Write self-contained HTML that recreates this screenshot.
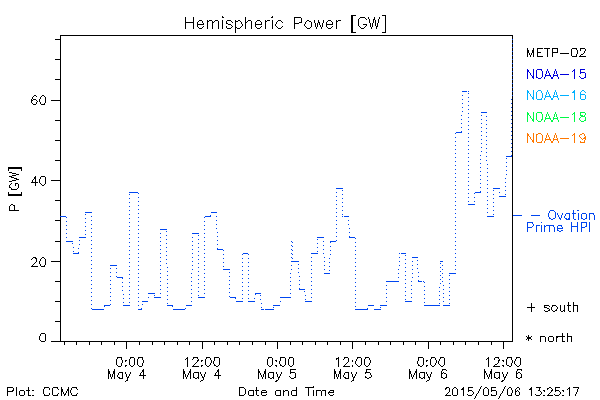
<!DOCTYPE html>
<html lang="en"><head><meta charset="utf-8"><title>Hemispheric Power [GW]</title>
<style>
html,body{margin:0;padding:0;background:#fff;font-family:"Liberation Sans",sans-serif;}
body{width:600px;height:400px;overflow:hidden;position:relative}
svg{display:block;position:absolute;left:0;top:0}
</style></head><body>
<svg role="img" width="600" height="400" viewBox="0 0 600 400" shape-rendering="crispEdges">
<title>Hemispheric Power [GW]</title>
<desc>Plot of hemispheric power P [GW] versus Date and Time, 0:00 May 4 to 12:00 May 6. Legend: METP-02, NOAA-15, NOAA-16, NOAA-18, NOAA-19, Ovation Prime HPI, + south, * north. Plot: CCMC. 2015/05/06 13:25:17</desc>
<rect width="600" height="400" fill="#fff"/>
<g aria-label="axes" fill="#000"><rect x="60" y="35" width="453" height="1"/><rect x="60" y="341" width="453" height="1"/><rect x="60" y="35" width="1" height="307"/><rect x="512" y="35" width="1" height="307"/><rect x="51" y="341" width="9" height="1"/><rect x="55" y="321" width="5" height="1"/><rect x="55" y="301" width="5" height="1"/><rect x="55" y="281" width="5" height="1"/><rect x="51" y="261" width="9" height="1"/><rect x="55" y="241" width="5" height="1"/><rect x="55" y="220" width="5" height="1"/><rect x="55" y="200" width="5" height="1"/><rect x="51" y="180" width="9" height="1"/><rect x="55" y="160" width="5" height="1"/><rect x="55" y="140" width="5" height="1"/><rect x="55" y="120" width="5" height="1"/><rect x="51" y="100" width="9" height="1"/><rect x="55" y="79" width="5" height="1"/><rect x="55" y="59" width="5" height="1"/><rect x="55" y="39" width="5" height="1"/><rect x="64" y="342" width="1" height="3"/><rect x="76" y="342" width="1" height="3"/><rect x="89" y="342" width="1" height="3"/><rect x="101" y="342" width="1" height="3"/><rect x="114" y="342" width="1" height="3"/><rect x="126" y="342" width="1" height="7"/><rect x="139" y="342" width="1" height="3"/><rect x="152" y="342" width="1" height="3"/><rect x="164" y="342" width="1" height="3"/><rect x="177" y="342" width="1" height="3"/><rect x="189" y="342" width="1" height="3"/><rect x="202" y="342" width="1" height="7"/><rect x="214" y="342" width="1" height="3"/><rect x="227" y="342" width="1" height="3"/><rect x="239" y="342" width="1" height="3"/><rect x="252" y="342" width="1" height="3"/><rect x="265" y="342" width="1" height="3"/><rect x="277" y="342" width="1" height="7"/><rect x="290" y="342" width="1" height="3"/><rect x="302" y="342" width="1" height="3"/><rect x="315" y="342" width="1" height="3"/><rect x="327" y="342" width="1" height="3"/><rect x="340" y="342" width="1" height="3"/><rect x="352" y="342" width="1" height="7"/><rect x="365" y="342" width="1" height="3"/><rect x="378" y="342" width="1" height="3"/><rect x="390" y="342" width="1" height="3"/><rect x="403" y="342" width="1" height="3"/><rect x="415" y="342" width="1" height="3"/><rect x="428" y="342" width="1" height="7"/><rect x="440" y="342" width="1" height="3"/><rect x="453" y="342" width="1" height="3"/><rect x="465" y="342" width="1" height="3"/><rect x="478" y="342" width="1" height="3"/><rect x="491" y="342" width="1" height="3"/><rect x="503" y="342" width="1" height="7"/></g>
<g aria-label="data"><path d="M512 39h1v1h-1zM512 43h1v1h-1zM512 47h1v1h-1zM512 51h1v1h-1zM512 55h1v1h-1zM512 59h1v1h-1zM512 63h1v1h-1zM512 67h1v1h-1zM512 71h1v1h-1zM512 75h1v1h-1zM512 79h1v1h-1zM512 83h1v1h-1zM512 87h1v1h-1zM462 91h5v1h-5zM468 91h1v1h-1zM512 91h1v1h-1zM468 93h1v1h-1zM462 95h1v1h-1zM512 95h1v1h-1zM468 97h1v1h-1zM462 99h1v1h-1zM511 99h1v1h-1zM468 101h1v1h-1zM462 103h1v1h-1zM511 103h1v1h-1zM468 105h1v1h-1zM462 107h1v1h-1zM511 107h1v1h-1zM468 109h1v1h-1zM462 111h1v1h-1zM511 111h1v1h-1zM481 112h6v1h-6zM468 113h1v1h-1zM461 115h1v1h-1zM481 115h1v1h-1zM511 115h1v1h-1zM486 116h1v1h-1zM468 117h1v1h-1zM461 119h1v1h-1zM481 119h1v1h-1zM511 119h1v1h-1zM486 120h1v1h-1zM468 121h1v1h-1zM461 123h1v1h-1zM481 123h1v1h-1zM511 123h1v1h-1zM486 124h1v1h-1zM468 125h1v1h-1zM461 127h1v1h-1zM481 127h1v1h-1zM511 127h1v1h-1zM486 128h1v1h-1zM468 129h1v1h-1zM461 131h1v1h-1zM481 131h1v1h-1zM511 131h1v1h-1zM456 132h6v1h-6zM486 132h1v1h-1zM455 133h1v1h-1zM468 133h1v1h-1zM481 135h1v1h-1zM511 135h1v1h-1zM486 136h1v1h-1zM455 137h1v1h-1zM468 137h1v1h-1zM481 139h1v1h-1zM511 139h1v1h-1zM486 140h1v1h-1zM455 141h1v1h-1zM468 141h1v1h-1zM481 143h1v1h-1zM511 143h1v1h-1zM486 144h1v1h-1zM455 145h1v1h-1zM468 145h1v1h-1zM481 147h1v1h-1zM511 147h1v1h-1zM486 148h1v1h-1zM455 149h1v1h-1zM468 149h1v1h-1zM481 151h1v1h-1zM511 151h1v1h-1zM486 152h1v1h-1zM455 153h1v1h-1zM468 153h1v1h-1zM480 155h1v1h-1zM511 155h1v1h-1zM486 156h1v1h-1zM506 156h6v1h-6zM455 157h1v1h-1zM468 157h1v1h-1zM506 158h1v1h-1zM480 159h1v1h-1zM486 160h1v1h-1zM455 161h1v1h-1zM468 161h1v1h-1zM506 162h1v1h-1zM480 163h1v1h-1zM487 164h1v1h-1zM455 165h1v1h-1zM468 165h1v1h-1zM506 166h1v1h-1zM480 167h1v1h-1zM487 168h1v1h-1zM455 169h1v1h-1zM468 169h1v1h-1zM506 170h1v1h-1zM480 171h1v1h-1zM487 172h1v1h-1zM455 173h1v1h-1zM468 173h1v1h-1zM506 174h1v1h-1zM480 175h1v1h-1zM487 176h1v1h-1zM455 177h1v1h-1zM468 177h1v1h-1zM505 178h1v1h-1zM480 179h1v1h-1zM487 180h1v1h-1zM455 181h1v1h-1zM468 181h1v1h-1zM505 182h1v1h-1zM480 183h1v1h-1zM487 184h1v1h-1zM455 185h1v1h-1zM468 185h1v1h-1zM505 186h1v1h-1zM480 187h1v1h-1zM336 188h7v1h-7zM487 188h1v1h-1zM493 188h7v1h-7zM455 189h1v1h-1zM468 189h1v1h-1zM342 190h1v1h-1zM493 190h1v1h-1zM505 190h1v1h-1zM480 191h1v1h-1zM129 192h9v1h-9zM336 192h1v1h-1zM475 192h6v1h-6zM487 192h1v1h-1zM499 192h1v1h-1zM138 193h1v1h-1zM455 193h1v1h-1zM468 193h1v1h-1zM474 193h1v1h-1zM129 194h1v1h-1zM342 194h1v1h-1zM493 194h1v1h-1zM505 194h1v1h-1zM336 196h1v1h-1zM487 196h1v1h-1zM499 196h7v1h-7zM138 197h1v1h-1zM455 197h1v1h-1zM468 197h1v1h-1zM474 197h1v1h-1zM129 198h1v1h-1zM342 198h1v1h-1zM493 198h1v1h-1zM336 200h1v1h-1zM487 200h1v1h-1zM138 201h1v1h-1zM455 201h1v1h-1zM468 201h1v1h-1zM474 201h1v1h-1zM129 202h1v1h-1zM342 202h1v1h-1zM493 202h1v1h-1zM336 204h1v1h-1zM468 204h7v1h-7zM487 204h1v1h-1zM138 205h1v1h-1zM455 205h1v1h-1zM129 206h1v1h-1zM342 206h1v1h-1zM493 206h1v1h-1zM336 208h1v1h-1zM487 208h1v1h-1zM138 209h1v1h-1zM455 209h1v1h-1zM129 210h1v1h-1zM342 210h1v1h-1zM493 210h1v1h-1zM85 212h7v1h-7zM211 212h6v1h-6zM336 212h1v1h-1zM487 212h1v1h-1zM138 213h1v1h-1zM455 213h1v1h-1zM85 214h1v1h-1zM129 214h1v1h-1zM342 214h1v1h-1zM493 214h1v1h-1zM210 215h1v1h-1zM60 216h6v1h-6zM91 216h1v1h-1zM205 216h6v1h-6zM216 216h1v1h-1zM336 216h1v1h-1zM342 216h1v1h-1zM344 216h5v1h-5zM487 216h7v1h-7zM66 217h1v1h-1zM138 217h1v1h-1zM204 217h1v1h-1zM455 217h1v1h-1zM85 218h1v1h-1zM129 218h1v1h-1zM91 220h1v1h-1zM216 220h1v1h-1zM336 220h1v1h-1zM348 220h1v1h-1zM66 221h1v1h-1zM138 221h1v1h-1zM204 221h1v1h-1zM455 221h1v1h-1zM85 222h1v1h-1zM129 222h1v1h-1zM91 224h1v1h-1zM216 224h1v1h-1zM336 224h1v1h-1zM348 224h1v1h-1zM66 225h1v1h-1zM138 225h1v1h-1zM204 225h1v1h-1zM455 225h1v1h-1zM85 226h1v1h-1zM129 226h1v1h-1zM91 228h1v1h-1zM216 228h1v1h-1zM336 228h1v1h-1zM349 228h1v1h-1zM66 229h1v1h-1zM138 229h1v1h-1zM160 229h7v1h-7zM204 229h1v1h-1zM455 229h1v1h-1zM85 230h1v1h-1zM129 230h1v1h-1zM166 231h1v1h-1zM91 232h1v1h-1zM217 232h1v1h-1zM336 232h1v1h-1zM349 232h1v1h-1zM66 233h1v1h-1zM138 233h1v1h-1zM160 233h1v1h-1zM192 233h7v1h-7zM204 233h1v1h-1zM455 233h1v1h-1zM85 234h1v1h-1zM129 234h1v1h-1zM166 235h1v1h-1zM198 235h1v1h-1zM91 236h1v1h-1zM217 236h1v1h-1zM336 236h1v1h-1zM349 236h1v1h-1zM66 237h1v1h-1zM79 237h7v1h-7zM138 237h1v1h-1zM160 237h1v1h-1zM192 237h1v1h-1zM204 237h1v1h-1zM317 237h7v1h-7zM349 237h6v1h-6zM455 237h1v1h-1zM129 238h1v1h-1zM355 238h1v1h-1zM166 239h1v1h-1zM198 239h1v1h-1zM317 239h1v1h-1zM79 240h1v1h-1zM91 240h1v1h-1zM217 240h1v1h-1zM336 240h1v1h-1zM66 241h7v1h-7zM138 241h1v1h-1zM160 241h1v1h-1zM192 241h1v1h-1zM204 241h1v1h-1zM291 241h1v1h-1zM323 241h1v1h-1zM330 241h6v1h-6zM455 241h1v1h-1zM129 242h1v1h-1zM292 242h1v1h-1zM330 242h1v1h-1zM355 242h1v1h-1zM72 243h1v1h-1zM166 243h1v1h-1zM198 243h1v1h-1zM317 243h1v1h-1zM79 244h1v1h-1zM91 244h1v1h-1zM217 244h1v1h-1zM138 245h1v1h-1zM160 245h1v1h-1zM192 245h1v1h-1zM204 245h1v1h-1zM291 245h1v1h-1zM323 245h1v1h-1zM455 245h1v1h-1zM129 246h1v1h-1zM292 246h1v1h-1zM330 246h1v1h-1zM355 246h1v1h-1zM73 247h1v1h-1zM166 247h1v1h-1zM198 247h1v1h-1zM317 247h1v1h-1zM78 248h1v1h-1zM91 248h1v1h-1zM217 248h1v1h-1zM138 249h1v1h-1zM160 249h1v1h-1zM192 249h1v1h-1zM204 249h1v1h-1zM217 249h6v1h-6zM291 249h1v1h-1zM323 249h1v1h-1zM455 249h1v1h-1zM129 250h1v1h-1zM223 250h1v1h-1zM292 250h1v1h-1zM330 250h1v1h-1zM355 250h1v1h-1zM73 251h1v1h-1zM166 251h1v1h-1zM198 251h1v1h-1zM317 251h1v1h-1zM78 252h1v1h-1zM91 252h1v1h-1zM73 253h6v1h-6zM138 253h1v1h-1zM160 253h1v1h-1zM192 253h1v1h-1zM204 253h1v1h-1zM243 253h5v1h-5zM291 253h1v1h-1zM311 253h7v1h-7zM323 253h1v1h-1zM399 253h1v1h-1zM401 253h5v1h-5zM455 253h1v1h-1zM129 254h1v1h-1zM223 254h1v1h-1zM242 254h1v1h-1zM248 254h1v1h-1zM292 254h1v1h-1zM330 254h1v1h-1zM355 254h1v1h-1zM166 255h1v1h-1zM198 255h1v1h-1zM405 255h1v1h-1zM91 256h1v1h-1zM138 257h1v1h-1zM160 257h1v1h-1zM192 257h1v1h-1zM204 257h1v1h-1zM291 257h1v1h-1zM311 257h1v1h-1zM324 257h1v1h-1zM399 257h1v1h-1zM412 257h6v1h-6zM455 257h1v1h-1zM129 258h1v1h-1zM223 258h1v1h-1zM242 258h1v1h-1zM248 258h1v1h-1zM292 258h1v1h-1zM329 258h1v1h-1zM355 258h1v1h-1zM166 259h1v1h-1zM198 259h1v1h-1zM405 259h1v1h-1zM91 260h1v1h-1zM417 260h1v1h-1zM138 261h1v1h-1zM160 261h1v1h-1zM192 261h1v1h-1zM204 261h1v1h-1zM291 261h8v1h-8zM311 261h1v1h-1zM324 261h1v1h-1zM399 261h1v1h-1zM412 261h1v1h-1zM440 261h3v1h-3zM455 261h1v1h-1zM129 262h1v1h-1zM223 262h1v1h-1zM242 262h1v1h-1zM248 262h1v1h-1zM329 262h1v1h-1zM355 262h1v1h-1zM166 263h1v1h-1zM198 263h1v1h-1zM405 263h1v1h-1zM440 263h1v1h-1zM91 264h1v1h-1zM298 264h1v1h-1zM417 264h1v1h-1zM110 265h7v1h-7zM138 265h1v1h-1zM160 265h1v1h-1zM192 265h1v1h-1zM204 265h1v1h-1zM291 265h1v1h-1zM311 265h1v1h-1zM324 265h1v1h-1zM399 265h1v1h-1zM412 265h1v1h-1zM442 265h1v1h-1zM455 265h1v1h-1zM129 266h1v1h-1zM223 266h1v1h-1zM242 266h1v1h-1zM248 266h1v1h-1zM329 266h1v1h-1zM355 266h1v1h-1zM167 267h1v1h-1zM198 267h1v1h-1zM405 267h1v1h-1zM440 267h1v1h-1zM91 268h1v1h-1zM110 268h1v1h-1zM116 268h1v1h-1zM298 268h1v1h-1zM417 268h1v1h-1zM138 269h1v1h-1zM160 269h1v1h-1zM192 269h1v1h-1zM204 269h1v1h-1zM223 269h7v1h-7zM291 269h1v1h-1zM311 269h1v1h-1zM324 269h1v1h-1zM398 269h1v1h-1zM412 269h1v1h-1zM442 269h1v1h-1zM455 269h1v1h-1zM129 270h1v1h-1zM242 270h1v1h-1zM248 270h1v1h-1zM329 270h1v1h-1zM355 270h1v1h-1zM167 271h1v1h-1zM198 271h1v1h-1zM405 271h1v1h-1zM440 271h1v1h-1zM91 272h1v1h-1zM110 272h1v1h-1zM116 272h1v1h-1zM229 272h1v1h-1zM298 272h1v1h-1zM418 272h1v1h-1zM138 273h1v1h-1zM160 273h1v1h-1zM191 273h1v1h-1zM204 273h1v1h-1zM290 273h1v1h-1zM311 273h1v1h-1zM324 273h6v1h-6zM398 273h1v1h-1zM412 273h1v1h-1zM442 273h1v1h-1zM449 273h7v1h-7zM129 274h1v1h-1zM242 274h1v1h-1zM248 274h1v1h-1zM355 274h1v1h-1zM167 275h1v1h-1zM198 275h1v1h-1zM405 275h1v1h-1zM440 275h1v1h-1zM449 275h1v1h-1zM91 276h1v1h-1zM110 276h1v1h-1zM116 276h1v1h-1zM229 276h1v1h-1zM299 276h1v1h-1zM418 276h1v1h-1zM117 277h6v1h-6zM138 277h1v1h-1zM160 277h1v1h-1zM191 277h1v1h-1zM204 277h1v1h-1zM290 277h1v1h-1zM311 277h1v1h-1zM398 277h1v1h-1zM412 277h1v1h-1zM442 277h1v1h-1zM122 278h1v1h-1zM129 278h1v1h-1zM242 278h1v1h-1zM248 278h1v1h-1zM355 278h1v1h-1zM167 279h1v1h-1zM198 279h1v1h-1zM405 279h1v1h-1zM440 279h1v1h-1zM449 279h1v1h-1zM91 280h1v1h-1zM110 280h1v1h-1zM229 280h1v1h-1zM299 280h1v1h-1zM418 280h1v1h-1zM138 281h1v1h-1zM160 281h1v1h-1zM191 281h1v1h-1zM204 281h1v1h-1zM290 281h1v1h-1zM311 281h1v1h-1zM386 281h13v1h-13zM411 281h1v1h-1zM418 281h4v1h-4zM423 281h1v1h-1zM442 281h1v1h-1zM122 282h1v1h-1zM129 282h1v1h-1zM242 282h1v1h-1zM248 282h1v1h-1zM355 282h1v1h-1zM424 282h1v1h-1zM167 283h1v1h-1zM198 283h1v1h-1zM405 283h1v1h-1zM440 283h1v1h-1zM449 283h1v1h-1zM91 284h1v1h-1zM110 284h1v1h-1zM229 284h1v1h-1zM299 284h1v1h-1zM138 285h1v1h-1zM160 285h1v1h-1zM191 285h1v1h-1zM204 285h1v1h-1zM290 285h1v1h-1zM311 285h1v1h-1zM386 285h1v1h-1zM411 285h1v1h-1zM443 285h1v1h-1zM122 286h1v1h-1zM129 286h1v1h-1zM242 286h1v1h-1zM248 286h1v1h-1zM355 286h1v1h-1zM424 286h1v1h-1zM167 287h1v1h-1zM198 287h1v1h-1zM405 287h1v1h-1zM439 287h1v1h-1zM449 287h1v1h-1zM91 288h1v1h-1zM110 288h1v1h-1zM229 288h1v1h-1zM299 288h1v1h-1zM138 289h1v1h-1zM160 289h1v1h-1zM191 289h1v1h-1zM204 289h1v1h-1zM290 289h1v1h-1zM299 289h6v1h-6zM311 289h1v1h-1zM386 289h1v1h-1zM411 289h1v1h-1zM443 289h1v1h-1zM122 290h1v1h-1zM129 290h1v1h-1zM242 290h1v1h-1zM248 290h1v1h-1zM355 290h1v1h-1zM424 290h1v1h-1zM167 291h1v1h-1zM198 291h1v1h-1zM304 291h1v1h-1zM405 291h1v1h-1zM439 291h1v1h-1zM449 291h1v1h-1zM91 292h1v1h-1zM110 292h1v1h-1zM229 292h1v1h-1zM138 293h1v1h-1zM148 293h7v1h-7zM160 293h1v1h-1zM191 293h1v1h-1zM204 293h1v1h-1zM255 293h6v1h-6zM290 293h1v1h-1zM311 293h1v1h-1zM386 293h1v1h-1zM411 293h1v1h-1zM443 293h1v1h-1zM123 294h1v1h-1zM129 294h1v1h-1zM242 294h1v1h-1zM248 294h1v1h-1zM255 294h1v1h-1zM355 294h1v1h-1zM424 294h1v1h-1zM154 295h1v1h-1zM167 295h1v1h-1zM198 295h1v1h-1zM260 295h1v1h-1zM305 295h1v1h-1zM405 295h1v1h-1zM439 295h1v1h-1zM449 295h1v1h-1zM91 296h1v1h-1zM110 296h1v1h-1zM229 296h1v1h-1zM138 297h1v1h-1zM148 297h1v1h-1zM154 297h7v1h-7zM191 297h1v1h-1zM198 297h7v1h-7zM230 297h6v1h-6zM280 297h11v1h-11zM311 297h1v1h-1zM386 297h1v1h-1zM411 297h1v1h-1zM443 297h1v1h-1zM123 298h1v1h-1zM129 298h1v1h-1zM235 298h1v1h-1zM242 298h1v1h-1zM248 298h1v1h-1zM254 298h1v1h-1zM355 298h1v1h-1zM424 298h1v1h-1zM167 299h1v1h-1zM260 299h1v1h-1zM305 299h1v1h-1zM405 299h1v1h-1zM439 299h1v1h-1zM449 299h1v1h-1zM91 300h1v1h-1zM110 300h1v1h-1zM138 301h1v1h-1zM142 301h6v1h-6zM191 301h1v1h-1zM236 301h7v1h-7zM248 301h7v1h-7zM280 301h1v1h-1zM305 301h7v1h-7zM386 301h1v1h-1zM405 301h7v1h-7zM443 301h1v1h-1zM123 302h1v1h-1zM129 302h1v1h-1zM355 302h1v1h-1zM424 302h1v1h-1zM167 303h1v1h-1zM261 303h1v1h-1zM439 303h1v1h-1zM449 303h1v1h-1zM91 304h1v1h-1zM110 304h1v1h-1zM142 304h1v1h-1zM104 305h6v1h-6zM123 305h7v1h-7zM138 305h1v1h-1zM167 305h6v1h-6zM186 305h6v1h-6zM273 305h7v1h-7zM368 305h6v1h-6zM380 305h7v1h-7zM424 305h16v1h-16zM443 305h7v1h-7zM104 306h1v1h-1zM172 306h1v1h-1zM355 306h1v1h-1zM261 307h1v1h-1zM273 307h1v1h-1zM380 307h1v1h-1zM91 308h1v1h-1zM141 308h1v1h-1zM185 308h1v1h-1zM367 308h1v1h-1zM92 309h12v1h-12zM138 309h4v1h-4zM173 309h12v1h-12zM261 309h3v1h-3zM265 309h9v1h-9zM355 309h13v1h-13zM374 309h7v1h-7z" fill="#0046f0"/></g>
<g aria-label="Hemispheric Power [GW]"><path d="M351 15h5v1h-5zM382 15h4v1h-4zM222 16h1v1h-1zM272 16h1v1h-1zM351 16h2v1h-2zM385 16h1v1h-1zM185 17h1v1h-1zM193 17h1v1h-1zM222 17h2v1h-2zM245 17h1v1h-1zM271 17h2v1h-2zM294 17h7v1h-7zM351 17h2v1h-2zM360 17h5v1h-5zM368 17h1v1h-1zM374 17h1v1h-1zM379 17h1v1h-1zM385 17h1v1h-1zM185 18h1v1h-1zM193 18h1v1h-1zM245 18h1v1h-1zM294 18h1v1h-1zM301 18h1v1h-1zM351 18h2v1h-2zM359 18h1v1h-1zM365 18h1v1h-1zM368 18h1v1h-1zM374 18h1v1h-1zM379 18h1v1h-1zM385 18h1v1h-1zM185 19h1v1h-1zM193 19h1v1h-1zM245 19h1v1h-1zM294 19h1v1h-1zM301 19h1v1h-1zM351 19h2v1h-2zM358 19h1v1h-1zM366 19h1v1h-1zM369 19h1v1h-1zM373 19h2v1h-2zM378 19h1v1h-1zM385 19h1v1h-1zM185 20h1v1h-1zM193 20h1v1h-1zM199 20h3v1h-3zM207 20h1v1h-1zM209 20h3v1h-3zM215 20h3v1h-3zM222 20h1v1h-1zM227 20h4v1h-4zM235 20h1v1h-1zM238 20h2v1h-2zM245 20h1v1h-1zM248 20h3v1h-3zM257 20h3v1h-3zM265 20h1v1h-1zM267 20h3v1h-3zM272 20h1v1h-1zM278 20h3v1h-3zM294 20h1v1h-1zM301 20h1v1h-1zM307 20h2v1h-2zM314 20h1v1h-1zM318 20h1v1h-1zM323 20h1v1h-1zM328 20h3v1h-3zM336 20h1v1h-1zM338 20h3v1h-3zM351 20h2v1h-2zM358 20h1v1h-1zM369 20h1v1h-1zM373 20h1v1h-1zM375 20h1v1h-1zM378 20h1v1h-1zM385 20h1v1h-1zM185 21h1v1h-1zM193 21h1v1h-1zM198 21h1v1h-1zM202 21h1v1h-1zM207 21h2v1h-2zM212 21h1v1h-1zM214 21h1v1h-1zM218 21h1v1h-1zM222 21h1v1h-1zM226 21h1v1h-1zM231 21h1v1h-1zM235 21h3v1h-3zM240 21h1v1h-1zM245 21h1v1h-1zM247 21h1v1h-1zM251 21h1v1h-1zM256 21h1v1h-1zM260 21h1v1h-1zM265 21h2v1h-2zM272 21h1v1h-1zM277 21h1v1h-1zM281 21h1v1h-1zM294 21h1v1h-1zM301 21h1v1h-1zM306 21h1v1h-1zM309 21h2v1h-2zM314 21h1v1h-1zM318 21h1v1h-1zM323 21h1v1h-1zM327 21h1v1h-1zM331 21h1v1h-1zM336 21h2v1h-2zM351 21h2v1h-2zM358 21h1v1h-1zM369 21h1v1h-1zM373 21h1v1h-1zM375 21h1v1h-1zM378 21h1v1h-1zM385 21h1v1h-1zM185 22h9v1h-9zM197 22h1v1h-1zM202 22h1v1h-1zM207 22h1v1h-1zM212 22h2v1h-2zM218 22h1v1h-1zM222 22h1v1h-1zM226 22h1v1h-1zM232 22h1v1h-1zM235 22h1v1h-1zM241 22h1v1h-1zM245 22h2v1h-2zM251 22h1v1h-1zM255 22h1v1h-1zM261 22h1v1h-1zM265 22h1v1h-1zM272 22h1v1h-1zM276 22h1v1h-1zM282 22h1v1h-1zM294 22h1v1h-1zM299 22h3v1h-3zM305 22h1v1h-1zM311 22h1v1h-1zM314 22h1v1h-1zM318 22h2v1h-2zM323 22h1v1h-1zM326 22h1v1h-1zM332 22h1v1h-1zM336 22h1v1h-1zM351 22h2v1h-2zM358 22h1v1h-1zM369 22h1v1h-1zM373 22h1v1h-1zM375 22h1v1h-1zM378 22h1v1h-1zM385 22h1v1h-1zM185 23h1v1h-1zM193 23h1v1h-1zM197 23h1v1h-1zM203 23h1v1h-1zM207 23h1v1h-1zM212 23h1v1h-1zM218 23h1v1h-1zM222 23h1v1h-1zM226 23h2v1h-2zM235 23h1v1h-1zM241 23h1v1h-1zM245 23h1v1h-1zM251 23h1v1h-1zM255 23h1v1h-1zM261 23h1v1h-1zM265 23h1v1h-1zM272 23h1v1h-1zM276 23h1v1h-1zM294 23h5v1h-5zM305 23h1v1h-1zM311 23h1v1h-1zM315 23h1v1h-1zM317 23h1v1h-1zM319 23h1v1h-1zM322 23h1v1h-1zM326 23h1v1h-1zM332 23h1v1h-1zM336 23h1v1h-1zM351 23h2v1h-2zM358 23h1v1h-1zM370 23h1v1h-1zM372 23h1v1h-1zM375 23h1v1h-1zM377 23h1v1h-1zM385 23h1v1h-1zM185 24h1v1h-1zM193 24h1v1h-1zM197 24h7v1h-7zM207 24h1v1h-1zM212 24h1v1h-1zM218 24h1v1h-1zM222 24h1v1h-1zM228 24h3v1h-3zM235 24h1v1h-1zM242 24h1v1h-1zM245 24h1v1h-1zM251 24h1v1h-1zM255 24h7v1h-7zM265 24h1v1h-1zM272 24h1v1h-1zM275 24h1v1h-1zM294 24h1v1h-1zM304 24h1v1h-1zM311 24h1v1h-1zM315 24h1v1h-1zM317 24h1v1h-1zM319 24h1v1h-1zM322 24h1v1h-1zM326 24h7v1h-7zM336 24h1v1h-1zM351 24h2v1h-2zM358 24h1v1h-1zM363 24h4v1h-4zM370 24h1v1h-1zM372 24h1v1h-1zM375 24h1v1h-1zM377 24h1v1h-1zM385 24h1v1h-1zM185 25h1v1h-1zM193 25h1v1h-1zM197 25h1v1h-1zM207 25h1v1h-1zM212 25h1v1h-1zM218 25h1v1h-1zM222 25h1v1h-1zM231 25h1v1h-1zM235 25h1v1h-1zM242 25h1v1h-1zM245 25h1v1h-1zM251 25h1v1h-1zM255 25h1v1h-1zM265 25h1v1h-1zM272 25h1v1h-1zM275 25h1v1h-1zM294 25h1v1h-1zM304 25h1v1h-1zM311 25h1v1h-1zM315 25h1v1h-1zM317 25h1v1h-1zM320 25h1v1h-1zM322 25h1v1h-1zM326 25h1v1h-1zM336 25h1v1h-1zM351 25h2v1h-2zM358 25h1v1h-1zM366 25h1v1h-1zM370 25h1v1h-1zM372 25h1v1h-1zM375 25h1v1h-1zM377 25h1v1h-1zM385 25h1v1h-1zM185 26h1v1h-1zM193 26h1v1h-1zM197 26h1v1h-1zM203 26h1v1h-1zM207 26h1v1h-1zM212 26h1v1h-1zM218 26h1v1h-1zM222 26h1v1h-1zM226 26h1v1h-1zM232 26h1v1h-1zM235 26h1v1h-1zM241 26h1v1h-1zM245 26h1v1h-1zM251 26h1v1h-1zM255 26h1v1h-1zM261 26h1v1h-1zM265 26h1v1h-1zM272 26h1v1h-1zM276 26h1v1h-1zM282 26h1v1h-1zM294 26h1v1h-1zM305 26h1v1h-1zM311 26h1v1h-1zM315 26h1v1h-1zM317 26h1v1h-1zM320 26h1v1h-1zM322 26h1v1h-1zM326 26h1v1h-1zM332 26h1v1h-1zM336 26h1v1h-1zM351 26h2v1h-2zM359 26h1v1h-1zM365 26h1v1h-1zM370 26h1v1h-1zM372 26h1v1h-1zM376 26h2v1h-2zM385 26h1v1h-1zM185 27h1v1h-1zM193 27h1v1h-1zM198 27h1v1h-1zM202 27h1v1h-1zM207 27h1v1h-1zM212 27h1v1h-1zM218 27h1v1h-1zM222 27h1v1h-1zM226 27h1v1h-1zM231 27h1v1h-1zM235 27h2v1h-2zM240 27h1v1h-1zM245 27h1v1h-1zM251 27h1v1h-1zM256 27h1v1h-1zM260 27h1v1h-1zM265 27h1v1h-1zM272 27h1v1h-1zM277 27h1v1h-1zM281 27h1v1h-1zM294 27h1v1h-1zM306 27h1v1h-1zM310 27h1v1h-1zM316 27h1v1h-1zM321 27h1v1h-1zM327 27h1v1h-1zM331 27h1v1h-1zM336 27h1v1h-1zM351 27h2v1h-2zM360 27h1v1h-1zM364 27h1v1h-1zM371 27h1v1h-1zM376 27h1v1h-1zM385 27h1v1h-1zM185 28h1v1h-1zM193 28h1v1h-1zM199 28h3v1h-3zM207 28h1v1h-1zM212 28h1v1h-1zM218 28h1v1h-1zM222 28h1v1h-1zM227 28h4v1h-4zM235 28h1v1h-1zM237 28h3v1h-3zM245 28h1v1h-1zM251 28h1v1h-1zM257 28h3v1h-3zM265 28h1v1h-1zM272 28h1v1h-1zM278 28h3v1h-3zM294 28h1v1h-1zM307 28h3v1h-3zM316 28h1v1h-1zM321 28h1v1h-1zM328 28h3v1h-3zM336 28h1v1h-1zM351 28h2v1h-2zM361 28h3v1h-3zM371 28h1v1h-1zM376 28h1v1h-1zM385 28h1v1h-1zM235 29h1v1h-1zM351 29h2v1h-2zM385 29h1v1h-1zM235 30h1v1h-1zM351 30h2v1h-2zM385 30h1v1h-1zM235 31h1v1h-1zM351 31h2v1h-2zM385 31h1v1h-1zM235 32h1v1h-1zM351 32h5v1h-5zM382 32h4v1h-4z" fill="#000"/></g>
<g aria-label="P [GW]"><path d="M8 167h14v1h-14zM8 168h14v1h-14zM8 169h1v1h-1zM21 169h1v1h-1zM8 170h1v1h-1zM21 170h1v1h-1zM9 172h3v1h-3zM12 173h4v1h-4zM16 174h3v1h-3zM12 175h4v1h-4zM9 176h3v1h-3zM11 177h3v1h-3zM14 178h3v1h-3zM16 179h3v1h-3zM12 180h4v1h-4zM9 181h3v1h-3zM11 183h1v1h-1zM15 183h3v1h-3zM10 184h1v1h-1zM15 184h1v1h-1zM18 184h1v1h-1zM9 185h1v1h-1zM15 185h1v1h-1zM18 185h1v1h-1zM9 186h1v1h-1zM18 186h1v1h-1zM9 187h2v1h-2zM18 187h1v1h-1zM11 188h1v1h-1zM17 188h1v1h-1zM11 189h6v1h-6zM8 192h1v1h-1zM21 192h1v1h-1zM8 193h1v1h-1zM21 193h1v1h-1zM8 194h14v1h-14zM8 195h14v1h-14zM11 204h2v1h-2zM10 205h1v1h-1zM13 205h2v1h-2zM9 206h1v1h-1zM14 206h1v1h-1zM9 207h1v1h-1zM14 207h1v1h-1zM9 208h1v1h-1zM14 208h1v1h-1zM9 209h1v1h-1zM14 209h1v1h-1zM9 210h10v1h-10z" fill="#000"/></g>
<g aria-label="60"><path d="M34 95h2v1h-2zM42 95h2v1h-2zM33 96h1v1h-1zM36 96h1v1h-1zM41 96h1v1h-1zM44 96h1v1h-1zM32 97h1v1h-1zM40 97h1v1h-1zM45 97h1v1h-1zM32 98h1v1h-1zM40 98h1v1h-1zM45 98h1v1h-1zM31 99h1v1h-1zM33 99h3v1h-3zM39 99h1v1h-1zM45 99h1v1h-1zM31 100h2v1h-2zM36 100h1v1h-1zM39 100h1v1h-1zM45 100h1v1h-1zM31 101h1v1h-1zM37 101h1v1h-1zM39 101h1v1h-1zM45 101h1v1h-1zM31 102h1v1h-1zM36 102h1v1h-1zM40 102h1v1h-1zM45 102h1v1h-1zM32 103h1v1h-1zM36 103h1v1h-1zM40 103h1v1h-1zM44 103h1v1h-1zM33 104h3v1h-3zM41 104h4v1h-4z" fill="#000"/></g>
<g aria-label="40"><path d="M35 176h1v1h-1zM41 176h4v1h-4zM34 177h2v1h-2zM40 177h1v1h-1zM45 177h1v1h-1zM34 178h2v1h-2zM40 178h1v1h-1zM45 178h1v1h-1zM33 179h1v1h-1zM35 179h1v1h-1zM39 179h1v1h-1zM45 179h1v1h-1zM32 180h1v1h-1zM35 180h1v1h-1zM39 180h1v1h-1zM45 180h1v1h-1zM32 181h1v1h-1zM35 181h1v1h-1zM39 181h1v1h-1zM45 181h1v1h-1zM31 182h7v1h-7zM39 182h1v1h-1zM45 182h1v1h-1zM35 183h1v1h-1zM40 183h1v1h-1zM45 183h1v1h-1zM35 184h1v1h-1zM41 184h1v1h-1zM44 184h1v1h-1zM35 185h1v1h-1zM42 185h2v1h-2z" fill="#000"/></g>
<g aria-label="20"><path d="M33 257h3v1h-3zM42 257h2v1h-2zM32 258h1v1h-1zM35 258h2v1h-2zM41 258h1v1h-1zM44 258h1v1h-1zM31 259h1v1h-1zM36 259h1v1h-1zM40 259h1v1h-1zM45 259h1v1h-1zM36 260h1v1h-1zM40 260h1v1h-1zM45 260h1v1h-1zM36 261h1v1h-1zM39 261h1v1h-1zM45 261h1v1h-1zM35 262h1v1h-1zM39 262h1v1h-1zM45 262h1v1h-1zM34 263h1v1h-1zM39 263h1v1h-1zM45 263h1v1h-1zM33 264h1v1h-1zM40 264h1v1h-1zM45 264h1v1h-1zM32 265h1v1h-1zM40 265h1v1h-1zM44 265h1v1h-1zM31 266h7v1h-7zM41 266h4v1h-4z" fill="#000"/></g>
<g aria-label="0"><path d="M41 333h4v1h-4zM40 334h1v1h-1zM45 334h1v1h-1zM40 335h1v1h-1zM45 335h1v1h-1zM39 336h1v1h-1zM45 336h1v1h-1zM39 337h1v1h-1zM45 337h1v1h-1zM39 338h1v1h-1zM45 338h1v1h-1zM39 339h1v1h-1zM45 339h1v1h-1zM40 340h1v1h-1zM45 340h1v1h-1zM41 341h4v1h-4z" fill="#000"/></g>
<g aria-label=" 0:00"><path d="M117 357h5v1h-5zM130 357h4v1h-4zM138 357h5v1h-5zM117 358h1v1h-1zM121 358h1v1h-1zM130 358h1v1h-1zM134 358h1v1h-1zM138 358h1v1h-1zM142 358h1v1h-1zM116 359h1v1h-1zM121 359h1v1h-1zM129 359h1v1h-1zM134 359h1v1h-1zM137 359h1v1h-1zM142 359h1v1h-1zM116 360h1v1h-1zM122 360h1v1h-1zM125 360h2v1h-2zM129 360h1v1h-1zM134 360h1v1h-1zM137 360h1v1h-1zM143 360h1v1h-1zM116 361h1v1h-1zM122 361h1v1h-1zM125 361h1v1h-1zM129 361h1v1h-1zM134 361h1v1h-1zM137 361h1v1h-1zM143 361h1v1h-1zM116 362h1v1h-1zM122 362h1v1h-1zM129 362h1v1h-1zM134 362h1v1h-1zM137 362h1v1h-1zM143 362h1v1h-1zM116 363h1v1h-1zM121 363h1v1h-1zM129 363h1v1h-1zM134 363h1v1h-1zM137 363h1v1h-1zM142 363h1v1h-1zM116 364h1v1h-1zM121 364h1v1h-1zM129 364h1v1h-1zM134 364h1v1h-1zM137 364h1v1h-1zM142 364h1v1h-1zM117 365h1v1h-1zM121 365h1v1h-1zM125 365h2v1h-2zM130 365h1v1h-1zM133 365h1v1h-1zM138 365h1v1h-1zM142 365h1v1h-1zM118 366h3v1h-3zM125 366h1v1h-1zM131 366h2v1h-2zM139 366h3v1h-3z" fill="#000"/></g>
<g aria-label="May 4"><path d="M108 369h1v1h-1zM114 369h1v1h-1zM143 369h1v1h-1zM108 370h1v1h-1zM114 370h1v1h-1zM142 370h2v1h-2zM108 371h2v1h-2zM113 371h2v1h-2zM142 371h2v1h-2zM108 372h2v1h-2zM113 372h2v1h-2zM119 372h4v1h-4zM125 372h1v1h-1zM130 372h1v1h-1zM141 372h1v1h-1zM143 372h1v1h-1zM108 373h2v1h-2zM113 373h2v1h-2zM118 373h1v1h-1zM122 373h1v1h-1zM125 373h1v1h-1zM130 373h1v1h-1zM140 373h1v1h-1zM143 373h1v1h-1zM108 374h1v1h-1zM110 374h1v1h-1zM112 374h1v1h-1zM114 374h1v1h-1zM118 374h1v1h-1zM122 374h1v1h-1zM126 374h1v1h-1zM129 374h1v1h-1zM140 374h1v1h-1zM143 374h1v1h-1zM108 375h1v1h-1zM110 375h1v1h-1zM112 375h1v1h-1zM114 375h1v1h-1zM117 375h1v1h-1zM122 375h1v1h-1zM126 375h1v1h-1zM129 375h1v1h-1zM139 375h7v1h-7zM108 376h1v1h-1zM110 376h1v1h-1zM112 376h1v1h-1zM114 376h1v1h-1zM117 376h1v1h-1zM122 376h1v1h-1zM126 376h1v1h-1zM128 376h1v1h-1zM143 376h1v1h-1zM108 377h1v1h-1zM111 377h1v1h-1zM114 377h1v1h-1zM118 377h2v1h-2zM122 377h1v1h-1zM127 377h2v1h-2zM143 377h1v1h-1zM108 378h1v1h-1zM111 378h1v1h-1zM114 378h1v1h-1zM119 378h4v1h-4zM127 378h1v1h-1zM143 378h1v1h-1zM127 379h1v1h-1zM126 380h2v1h-2zM125 381h1v1h-1z" fill="#000"/></g>
<g aria-label="12:00"><path d="M187 357h1v1h-1zM193 357h5v1h-5zM206 357h4v1h-4zM214 357h5v1h-5zM186 358h2v1h-2zM193 358h1v1h-1zM197 358h1v1h-1zM206 358h1v1h-1zM210 358h1v1h-1zM214 358h1v1h-1zM219 358h1v1h-1zM185 359h1v1h-1zM187 359h1v1h-1zM192 359h1v1h-1zM198 359h1v1h-1zM205 359h1v1h-1zM210 359h1v1h-1zM214 359h1v1h-1zM219 359h1v1h-1zM187 360h1v1h-1zM197 360h2v1h-2zM201 360h2v1h-2zM205 360h1v1h-1zM211 360h1v1h-1zM214 360h1v1h-1zM219 360h1v1h-1zM187 361h1v1h-1zM197 361h1v1h-1zM201 361h1v1h-1zM205 361h1v1h-1zM211 361h1v1h-1zM213 361h1v1h-1zM219 361h1v1h-1zM187 362h1v1h-1zM196 362h1v1h-1zM205 362h1v1h-1zM211 362h1v1h-1zM213 362h1v1h-1zM219 362h1v1h-1zM187 363h1v1h-1zM195 363h1v1h-1zM205 363h1v1h-1zM210 363h1v1h-1zM213 363h1v1h-1zM219 363h1v1h-1zM187 364h1v1h-1zM194 364h1v1h-1zM205 364h1v1h-1zM210 364h1v1h-1zM214 364h1v1h-1zM219 364h1v1h-1zM187 365h1v1h-1zM193 365h1v1h-1zM201 365h2v1h-2zM206 365h1v1h-1zM209 365h1v1h-1zM214 365h2v1h-2zM218 365h1v1h-1zM187 366h1v1h-1zM192 366h7v1h-7zM201 366h1v1h-1zM207 366h2v1h-2zM216 366h2v1h-2z" fill="#000"/></g>
<g aria-label="May 4"><path d="M183 369h1v1h-1zM190 369h1v1h-1zM218 369h1v1h-1zM183 370h1v1h-1zM190 370h1v1h-1zM217 370h2v1h-2zM183 371h2v1h-2zM189 371h2v1h-2zM217 371h2v1h-2zM183 372h2v1h-2zM189 372h2v1h-2zM194 372h5v1h-5zM200 372h1v1h-1zM205 372h1v1h-1zM216 372h1v1h-1zM218 372h1v1h-1zM183 373h2v1h-2zM188 373h1v1h-1zM190 373h1v1h-1zM193 373h1v1h-1zM198 373h1v1h-1zM200 373h1v1h-1zM205 373h1v1h-1zM215 373h1v1h-1zM218 373h1v1h-1zM183 374h1v1h-1zM185 374h1v1h-1zM188 374h1v1h-1zM190 374h1v1h-1zM193 374h1v1h-1zM198 374h1v1h-1zM201 374h1v1h-1zM204 374h1v1h-1zM215 374h1v1h-1zM218 374h1v1h-1zM183 375h1v1h-1zM185 375h1v1h-1zM187 375h1v1h-1zM190 375h1v1h-1zM193 375h1v1h-1zM198 375h1v1h-1zM201 375h1v1h-1zM204 375h1v1h-1zM214 375h7v1h-7zM183 376h1v1h-1zM185 376h1v1h-1zM187 376h1v1h-1zM190 376h1v1h-1zM193 376h1v1h-1zM198 376h1v1h-1zM202 376h1v1h-1zM204 376h1v1h-1zM218 376h1v1h-1zM183 377h1v1h-1zM186 377h1v1h-1zM190 377h1v1h-1zM193 377h2v1h-2zM197 377h2v1h-2zM202 377h2v1h-2zM218 377h1v1h-1zM183 378h1v1h-1zM186 378h1v1h-1zM190 378h1v1h-1zM195 378h2v1h-2zM198 378h1v1h-1zM203 378h1v1h-1zM218 378h1v1h-1zM203 379h1v1h-1zM201 380h2v1h-2zM200 381h1v1h-1z" fill="#000"/></g>
<g aria-label=" 0:00"><path d="M268 357h4v1h-4zM280 357h5v1h-5zM289 357h4v1h-4zM268 358h1v1h-1zM272 358h1v1h-1zM280 358h1v1h-1zM285 358h1v1h-1zM289 358h1v1h-1zM293 358h1v1h-1zM267 359h1v1h-1zM272 359h1v1h-1zM280 359h1v1h-1zM285 359h1v1h-1zM288 359h1v1h-1zM293 359h1v1h-1zM267 360h1v1h-1zM272 360h1v1h-1zM275 360h2v1h-2zM280 360h1v1h-1zM285 360h1v1h-1zM288 360h1v1h-1zM293 360h1v1h-1zM267 361h1v1h-1zM272 361h1v1h-1zM276 361h1v1h-1zM279 361h1v1h-1zM285 361h1v1h-1zM288 361h1v1h-1zM293 361h1v1h-1zM267 362h1v1h-1zM272 362h1v1h-1zM279 362h1v1h-1zM285 362h1v1h-1zM288 362h1v1h-1zM293 362h1v1h-1zM267 363h1v1h-1zM272 363h1v1h-1zM279 363h1v1h-1zM285 363h1v1h-1zM288 363h1v1h-1zM293 363h1v1h-1zM267 364h1v1h-1zM272 364h1v1h-1zM280 364h1v1h-1zM285 364h1v1h-1zM288 364h1v1h-1zM293 364h1v1h-1zM268 365h1v1h-1zM271 365h1v1h-1zM275 365h2v1h-2zM280 365h2v1h-2zM284 365h1v1h-1zM289 365h1v1h-1zM292 365h1v1h-1zM269 366h2v1h-2zM276 366h1v1h-1zM282 366h2v1h-2zM290 366h2v1h-2z" fill="#000"/></g>
<g aria-label="May 5"><path d="M258 369h1v1h-1zM265 369h1v1h-1zM290 369h6v1h-6zM258 370h1v1h-1zM265 370h1v1h-1zM290 370h1v1h-1zM258 371h2v1h-2zM264 371h2v1h-2zM290 371h1v1h-1zM258 372h2v1h-2zM264 372h2v1h-2zM269 372h5v1h-5zM276 372h1v1h-1zM281 372h1v1h-1zM290 372h5v1h-5zM258 373h1v1h-1zM260 373h1v1h-1zM264 373h2v1h-2zM268 373h1v1h-1zM273 373h1v1h-1zM276 373h1v1h-1zM281 373h1v1h-1zM290 373h1v1h-1zM295 373h1v1h-1zM258 374h1v1h-1zM260 374h1v1h-1zM263 374h1v1h-1zM265 374h1v1h-1zM268 374h1v1h-1zM273 374h1v1h-1zM277 374h1v1h-1zM280 374h1v1h-1zM295 374h1v1h-1zM258 375h1v1h-1zM261 375h1v1h-1zM263 375h1v1h-1zM265 375h1v1h-1zM268 375h1v1h-1zM273 375h1v1h-1zM277 375h1v1h-1zM280 375h1v1h-1zM295 375h1v1h-1zM258 376h1v1h-1zM261 376h1v1h-1zM263 376h1v1h-1zM265 376h1v1h-1zM268 376h1v1h-1zM273 376h1v1h-1zM277 376h1v1h-1zM279 376h1v1h-1zM289 376h1v1h-1zM295 376h1v1h-1zM258 377h1v1h-1zM262 377h1v1h-1zM265 377h1v1h-1zM268 377h2v1h-2zM272 377h2v1h-2zM278 377h2v1h-2zM290 377h1v1h-1zM294 377h2v1h-2zM258 378h1v1h-1zM262 378h1v1h-1zM265 378h1v1h-1zM270 378h2v1h-2zM273 378h1v1h-1zM278 378h1v1h-1zM291 378h3v1h-3zM278 379h1v1h-1zM276 380h2v1h-2zM275 381h2v1h-2z" fill="#000"/></g>
<g aria-label="12:00"><path d="M338 357h1v1h-1zM344 357h4v1h-4zM357 357h4v1h-4zM365 357h4v1h-4zM336 358h3v1h-3zM344 358h1v1h-1zM348 358h1v1h-1zM357 358h1v1h-1zM361 358h1v1h-1zM365 358h1v1h-1zM369 358h1v1h-1zM336 359h1v1h-1zM338 359h1v1h-1zM343 359h1v1h-1zM348 359h1v1h-1zM356 359h1v1h-1zM361 359h1v1h-1zM364 359h1v1h-1zM369 359h1v1h-1zM338 360h1v1h-1zM348 360h1v1h-1zM352 360h1v1h-1zM356 360h1v1h-1zM361 360h1v1h-1zM364 360h1v1h-1zM370 360h1v1h-1zM338 361h1v1h-1zM348 361h1v1h-1zM352 361h1v1h-1zM355 361h1v1h-1zM361 361h1v1h-1zM364 361h1v1h-1zM370 361h1v1h-1zM338 362h1v1h-1zM347 362h1v1h-1zM355 362h1v1h-1zM361 362h1v1h-1zM364 362h1v1h-1zM370 362h1v1h-1zM338 363h1v1h-1zM346 363h1v1h-1zM355 363h1v1h-1zM361 363h1v1h-1zM364 363h1v1h-1zM369 363h1v1h-1zM338 364h1v1h-1zM345 364h1v1h-1zM356 364h1v1h-1zM361 364h1v1h-1zM364 364h1v1h-1zM369 364h1v1h-1zM338 365h1v1h-1zM344 365h1v1h-1zM352 365h1v1h-1zM357 365h1v1h-1zM360 365h1v1h-1zM365 365h1v1h-1zM368 365h1v1h-1zM338 366h1v1h-1zM343 366h7v1h-7zM352 366h1v1h-1zM358 366h2v1h-2zM366 366h2v1h-2z" fill="#000"/></g>
<g aria-label="May 5"><path d="M334 369h1v1h-1zM340 369h1v1h-1zM366 369h5v1h-5zM334 370h1v1h-1zM340 370h1v1h-1zM366 370h1v1h-1zM334 371h2v1h-2zM339 371h2v1h-2zM366 371h1v1h-1zM334 372h2v1h-2zM339 372h2v1h-2zM345 372h4v1h-4zM351 372h1v1h-1zM356 372h1v1h-1zM365 372h5v1h-5zM334 373h2v1h-2zM339 373h2v1h-2zM344 373h1v1h-1zM348 373h1v1h-1zM351 373h1v1h-1zM356 373h1v1h-1zM365 373h1v1h-1zM370 373h1v1h-1zM334 374h1v1h-1zM336 374h1v1h-1zM338 374h1v1h-1zM340 374h1v1h-1zM344 374h1v1h-1zM348 374h1v1h-1zM352 374h1v1h-1zM355 374h1v1h-1zM370 374h1v1h-1zM334 375h1v1h-1zM336 375h1v1h-1zM338 375h1v1h-1zM340 375h1v1h-1zM343 375h1v1h-1zM348 375h1v1h-1zM352 375h1v1h-1zM355 375h1v1h-1zM371 375h1v1h-1zM334 376h1v1h-1zM336 376h1v1h-1zM338 376h1v1h-1zM340 376h1v1h-1zM343 376h1v1h-1zM348 376h1v1h-1zM352 376h1v1h-1zM354 376h1v1h-1zM365 376h1v1h-1zM371 376h1v1h-1zM334 377h1v1h-1zM337 377h1v1h-1zM340 377h1v1h-1zM344 377h2v1h-2zM348 377h1v1h-1zM353 377h2v1h-2zM365 377h2v1h-2zM369 377h2v1h-2zM334 378h1v1h-1zM337 378h1v1h-1zM340 378h1v1h-1zM345 378h4v1h-4zM353 378h1v1h-1zM367 378h2v1h-2zM353 379h1v1h-1zM352 380h2v1h-2zM351 381h1v1h-1z" fill="#000"/></g>
<g aria-label=" 0:00"><path d="M418 357h5v1h-5zM431 357h4v1h-4zM440 357h4v1h-4zM418 358h1v1h-1zM423 358h1v1h-1zM431 358h1v1h-1zM435 358h1v1h-1zM440 358h1v1h-1zM444 358h1v1h-1zM418 359h1v1h-1zM423 359h1v1h-1zM430 359h1v1h-1zM435 359h1v1h-1zM439 359h1v1h-1zM444 359h1v1h-1zM418 360h1v1h-1zM423 360h1v1h-1zM426 360h2v1h-2zM430 360h1v1h-1zM436 360h1v1h-1zM439 360h1v1h-1zM444 360h1v1h-1zM417 361h1v1h-1zM423 361h1v1h-1zM426 361h1v1h-1zM430 361h1v1h-1zM436 361h1v1h-1zM438 361h1v1h-1zM444 361h1v1h-1zM417 362h1v1h-1zM423 362h1v1h-1zM430 362h1v1h-1zM436 362h1v1h-1zM438 362h1v1h-1zM444 362h1v1h-1zM417 363h1v1h-1zM423 363h1v1h-1zM430 363h1v1h-1zM435 363h1v1h-1zM438 363h1v1h-1zM444 363h1v1h-1zM418 364h1v1h-1zM423 364h1v1h-1zM430 364h1v1h-1zM435 364h1v1h-1zM439 364h1v1h-1zM444 364h1v1h-1zM418 365h2v1h-2zM422 365h1v1h-1zM426 365h2v1h-2zM431 365h1v1h-1zM434 365h1v1h-1zM440 365h1v1h-1zM443 365h1v1h-1zM420 366h2v1h-2zM426 366h1v1h-1zM432 366h2v1h-2zM441 366h2v1h-2z" fill="#000"/></g>
<g aria-label="May 6"><path d="M409 369h1v1h-1zM416 369h1v1h-1zM442 369h4v1h-4zM409 370h1v1h-1zM416 370h1v1h-1zM442 370h1v1h-1zM446 370h1v1h-1zM409 371h2v1h-2zM415 371h2v1h-2zM441 371h1v1h-1zM409 372h2v1h-2zM415 372h2v1h-2zM420 372h5v1h-5zM426 372h1v1h-1zM431 372h1v1h-1zM441 372h1v1h-1zM443 372h1v1h-1zM409 373h2v1h-2zM414 373h1v1h-1zM416 373h1v1h-1zM419 373h1v1h-1zM424 373h1v1h-1zM426 373h1v1h-1zM431 373h1v1h-1zM441 373h2v1h-2zM444 373h2v1h-2zM409 374h1v1h-1zM411 374h1v1h-1zM414 374h1v1h-1zM416 374h1v1h-1zM419 374h1v1h-1zM424 374h1v1h-1zM427 374h1v1h-1zM430 374h1v1h-1zM441 374h1v1h-1zM446 374h1v1h-1zM409 375h1v1h-1zM411 375h1v1h-1zM413 375h1v1h-1zM416 375h1v1h-1zM419 375h1v1h-1zM424 375h1v1h-1zM427 375h1v1h-1zM430 375h1v1h-1zM441 375h1v1h-1zM446 375h1v1h-1zM409 376h1v1h-1zM411 376h1v1h-1zM413 376h1v1h-1zM416 376h1v1h-1zM419 376h1v1h-1zM424 376h1v1h-1zM428 376h1v1h-1zM430 376h1v1h-1zM441 376h1v1h-1zM446 376h1v1h-1zM409 377h1v1h-1zM412 377h1v1h-1zM416 377h1v1h-1zM419 377h2v1h-2zM423 377h2v1h-2zM428 377h2v1h-2zM441 377h2v1h-2zM445 377h2v1h-2zM409 378h1v1h-1zM412 378h1v1h-1zM416 378h1v1h-1zM421 378h2v1h-2zM424 378h1v1h-1zM429 378h1v1h-1zM443 378h2v1h-2zM429 379h1v1h-1zM427 380h2v1h-2zM426 381h1v1h-1z" fill="#000"/></g>
<g aria-label="12:00"><path d="M488 357h1v1h-1zM495 357h4v1h-4zM507 357h5v1h-5zM516 357h4v1h-4zM487 358h2v1h-2zM494 358h1v1h-1zM498 358h1v1h-1zM507 358h1v1h-1zM511 358h1v1h-1zM516 358h1v1h-1zM520 358h1v1h-1zM486 359h1v1h-1zM488 359h1v1h-1zM494 359h1v1h-1zM499 359h1v1h-1zM506 359h1v1h-1zM511 359h1v1h-1zM515 359h1v1h-1zM520 359h1v1h-1zM488 360h1v1h-1zM498 360h2v1h-2zM502 360h2v1h-2zM506 360h1v1h-1zM512 360h1v1h-1zM515 360h1v1h-1zM520 360h1v1h-1zM488 361h1v1h-1zM498 361h1v1h-1zM503 361h1v1h-1zM506 361h1v1h-1zM512 361h1v1h-1zM514 361h1v1h-1zM520 361h1v1h-1zM488 362h1v1h-1zM498 362h1v1h-1zM506 362h1v1h-1zM512 362h1v1h-1zM514 362h1v1h-1zM520 362h1v1h-1zM488 363h1v1h-1zM497 363h1v1h-1zM506 363h1v1h-1zM511 363h1v1h-1zM514 363h1v1h-1zM520 363h1v1h-1zM488 364h1v1h-1zM495 364h2v1h-2zM506 364h1v1h-1zM511 364h1v1h-1zM515 364h1v1h-1zM520 364h1v1h-1zM488 365h1v1h-1zM494 365h1v1h-1zM502 365h2v1h-2zM507 365h2v1h-2zM511 365h1v1h-1zM516 365h1v1h-1zM519 365h1v1h-1zM488 366h1v1h-1zM493 366h7v1h-7zM503 366h1v1h-1zM509 366h2v1h-2zM517 366h2v1h-2z" fill="#000"/></g>
<g aria-label="May 6"><path d="M484 369h1v1h-1zM491 369h1v1h-1zM517 369h5v1h-5zM484 370h1v1h-1zM491 370h1v1h-1zM517 370h1v1h-1zM521 370h1v1h-1zM484 371h2v1h-2zM490 371h2v1h-2zM516 371h1v1h-1zM484 372h2v1h-2zM490 372h2v1h-2zM495 372h5v1h-5zM502 372h1v1h-1zM507 372h1v1h-1zM516 372h1v1h-1zM518 372h2v1h-2zM484 373h1v1h-1zM486 373h1v1h-1zM490 373h2v1h-2zM494 373h1v1h-1zM499 373h1v1h-1zM502 373h1v1h-1zM507 373h1v1h-1zM516 373h2v1h-2zM520 373h1v1h-1zM484 374h1v1h-1zM486 374h1v1h-1zM489 374h1v1h-1zM491 374h1v1h-1zM494 374h1v1h-1zM499 374h1v1h-1zM503 374h1v1h-1zM506 374h1v1h-1zM516 374h1v1h-1zM521 374h1v1h-1zM484 375h1v1h-1zM487 375h1v1h-1zM489 375h1v1h-1zM491 375h1v1h-1zM494 375h1v1h-1zM499 375h1v1h-1zM503 375h1v1h-1zM506 375h1v1h-1zM516 375h1v1h-1zM521 375h1v1h-1zM484 376h1v1h-1zM487 376h1v1h-1zM489 376h1v1h-1zM491 376h1v1h-1zM494 376h1v1h-1zM499 376h1v1h-1zM503 376h1v1h-1zM505 376h1v1h-1zM516 376h1v1h-1zM521 376h1v1h-1zM484 377h1v1h-1zM488 377h1v1h-1zM491 377h1v1h-1zM494 377h2v1h-2zM498 377h2v1h-2zM504 377h2v1h-2zM516 377h2v1h-2zM520 377h2v1h-2zM484 378h1v1h-1zM488 378h1v1h-1zM491 378h1v1h-1zM496 378h2v1h-2zM499 378h1v1h-1zM504 378h1v1h-1zM518 378h2v1h-2zM504 379h1v1h-1zM502 380h2v1h-2zM501 381h2v1h-2z" fill="#000"/></g>
<g aria-label="Date and Time"><path d="M313 386h1v1h-1zM239 387h5v1h-5zM256 387h1v1h-1zM296 387h1v1h-1zM305 387h9v1h-9zM239 388h1v1h-1zM244 388h1v1h-1zM256 388h1v1h-1zM296 388h1v1h-1zM308 388h1v1h-1zM239 389h1v1h-1zM245 389h1v1h-1zM256 389h1v1h-1zM296 389h1v1h-1zM308 389h1v1h-1zM239 390h1v1h-1zM245 390h1v1h-1zM249 390h5v1h-5zM255 390h4v1h-4zM262 390h4v1h-4zM276 390h5v1h-5zM283 390h1v1h-1zM285 390h3v1h-3zM292 390h5v1h-5zM308 390h1v1h-1zM313 390h1v1h-1zM316 390h5v1h-5zM322 390h4v1h-4zM330 390h4v1h-4zM239 391h1v1h-1zM245 391h1v1h-1zM248 391h1v1h-1zM253 391h1v1h-1zM256 391h1v1h-1zM261 391h1v1h-1zM266 391h1v1h-1zM275 391h1v1h-1zM280 391h1v1h-1zM283 391h2v1h-2zM288 391h1v1h-1zM291 391h1v1h-1zM296 391h1v1h-1zM308 391h1v1h-1zM313 391h1v1h-1zM316 391h1v1h-1zM321 391h1v1h-1zM325 391h1v1h-1zM329 391h1v1h-1zM333 391h1v1h-1zM239 392h1v1h-1zM245 392h1v1h-1zM248 392h1v1h-1zM253 392h1v1h-1zM256 392h1v1h-1zM261 392h6v1h-6zM275 392h1v1h-1zM280 392h1v1h-1zM283 392h1v1h-1zM288 392h1v1h-1zM291 392h1v1h-1zM296 392h1v1h-1zM308 392h1v1h-1zM313 392h1v1h-1zM316 392h1v1h-1zM321 392h1v1h-1zM325 392h1v1h-1zM328 392h6v1h-6zM239 393h1v1h-1zM245 393h1v1h-1zM248 393h1v1h-1zM253 393h1v1h-1zM256 393h1v1h-1zM261 393h1v1h-1zM275 393h1v1h-1zM280 393h1v1h-1zM283 393h1v1h-1zM288 393h1v1h-1zM291 393h1v1h-1zM296 393h1v1h-1zM308 393h1v1h-1zM313 393h1v1h-1zM316 393h1v1h-1zM321 393h1v1h-1zM325 393h1v1h-1zM328 393h1v1h-1zM239 394h1v1h-1zM244 394h1v1h-1zM248 394h1v1h-1zM253 394h1v1h-1zM256 394h1v1h-1zM261 394h1v1h-1zM266 394h1v1h-1zM275 394h1v1h-1zM280 394h1v1h-1zM283 394h1v1h-1zM288 394h1v1h-1zM291 394h1v1h-1zM296 394h1v1h-1zM308 394h1v1h-1zM313 394h1v1h-1zM316 394h1v1h-1zM321 394h1v1h-1zM325 394h1v1h-1zM329 394h1v1h-1zM333 394h1v1h-1zM239 395h5v1h-5zM249 395h5v1h-5zM257 395h2v1h-2zM262 395h4v1h-4zM276 395h5v1h-5zM283 395h1v1h-1zM288 395h1v1h-1zM292 395h5v1h-5zM308 395h1v1h-1zM313 395h1v1h-1zM316 395h1v1h-1zM321 395h1v1h-1zM325 395h1v1h-1zM330 395h3v1h-3z" fill="#000"/></g>
<g aria-label="Plot: CCMC"><path d="M7 387h6v1h-6zM16 387h1v1h-1zM28 387h1v1h-1zM44 387h5v1h-5zM53 387h5v1h-5zM61 387h1v1h-1zM68 387h1v1h-1zM72 387h5v1h-5zM7 388h1v1h-1zM13 388h1v1h-1zM16 388h1v1h-1zM28 388h1v1h-1zM44 388h1v1h-1zM49 388h1v1h-1zM52 388h1v1h-1zM57 388h1v1h-1zM61 388h1v1h-1zM68 388h1v1h-1zM71 388h1v1h-1zM76 388h1v1h-1zM7 389h1v1h-1zM13 389h1v1h-1zM16 389h1v1h-1zM28 389h1v1h-1zM43 389h1v1h-1zM49 389h1v1h-1zM52 389h1v1h-1zM58 389h1v1h-1zM61 389h2v1h-2zM67 389h2v1h-2zM71 389h1v1h-1zM77 389h1v1h-1zM7 390h1v1h-1zM12 390h2v1h-2zM16 390h1v1h-1zM20 390h4v1h-4zM26 390h4v1h-4zM32 390h2v1h-2zM43 390h1v1h-1zM52 390h1v1h-1zM61 390h2v1h-2zM67 390h2v1h-2zM70 390h1v1h-1zM7 391h6v1h-6zM16 391h1v1h-1zM19 391h1v1h-1zM24 391h1v1h-1zM28 391h1v1h-1zM43 391h1v1h-1zM52 391h1v1h-1zM61 391h2v1h-2zM66 391h1v1h-1zM68 391h1v1h-1zM70 391h1v1h-1zM7 392h1v1h-1zM16 392h1v1h-1zM19 392h1v1h-1zM24 392h1v1h-1zM28 392h1v1h-1zM43 392h1v1h-1zM52 392h1v1h-1zM61 392h1v1h-1zM63 392h1v1h-1zM66 392h1v1h-1zM68 392h1v1h-1zM70 392h1v1h-1zM7 393h1v1h-1zM16 393h1v1h-1zM19 393h1v1h-1zM24 393h1v1h-1zM28 393h1v1h-1zM43 393h1v1h-1zM49 393h1v1h-1zM52 393h1v1h-1zM58 393h1v1h-1zM61 393h1v1h-1zM63 393h1v1h-1zM65 393h1v1h-1zM68 393h1v1h-1zM71 393h1v1h-1zM77 393h1v1h-1zM7 394h1v1h-1zM16 394h1v1h-1zM19 394h1v1h-1zM24 394h1v1h-1zM28 394h1v1h-1zM44 394h1v1h-1zM49 394h1v1h-1zM52 394h1v1h-1zM57 394h1v1h-1zM61 394h1v1h-1zM64 394h2v1h-2zM68 394h1v1h-1zM71 394h1v1h-1zM76 394h1v1h-1zM7 395h1v1h-1zM16 395h1v1h-1zM20 395h4v1h-4zM28 395h3v1h-3zM32 395h2v1h-2zM44 395h5v1h-5zM53 395h5v1h-5zM61 395h1v1h-1zM64 395h1v1h-1zM68 395h1v1h-1zM72 395h5v1h-5z" fill="#000"/></g>
<g aria-label="2015/05/06 13:25:17"><path d="M481 386h1v1h-1zM505 386h1v1h-1zM446 387h3v1h-3zM454 387h2v1h-2zM463 387h1v1h-1zM468 387h5v1h-5zM480 387h1v1h-1zM485 387h2v1h-2zM491 387h5v1h-5zM504 387h1v1h-1zM509 387h2v1h-2zM517 387h2v1h-2zM531 387h1v1h-1zM536 387h5v1h-5zM549 387h2v1h-2zM555 387h5v1h-5zM569 387h1v1h-1zM573 387h6v1h-6zM445 388h2v1h-2zM449 388h1v1h-1zM453 388h1v1h-1zM456 388h1v1h-1zM462 388h2v1h-2zM468 388h1v1h-1zM480 388h1v1h-1zM484 388h1v1h-1zM487 388h1v1h-1zM491 388h1v1h-1zM504 388h1v1h-1zM508 388h1v1h-1zM511 388h1v1h-1zM516 388h1v1h-1zM519 388h1v1h-1zM530 388h2v1h-2zM539 388h1v1h-1zM547 388h2v1h-2zM551 388h1v1h-1zM555 388h1v1h-1zM568 388h2v1h-2zM578 388h1v1h-1zM445 389h1v1h-1zM449 389h1v1h-1zM452 389h1v1h-1zM457 389h1v1h-1zM461 389h3v1h-3zM468 389h1v1h-1zM479 389h1v1h-1zM483 389h1v1h-1zM488 389h1v1h-1zM491 389h1v1h-1zM503 389h1v1h-1zM507 389h1v1h-1zM511 389h1v1h-1zM515 389h1v1h-1zM519 389h1v1h-1zM529 389h3v1h-3zM539 389h1v1h-1zM547 389h1v1h-1zM552 389h1v1h-1zM555 389h1v1h-1zM567 389h1v1h-1zM569 389h1v1h-1zM577 389h1v1h-1zM449 390h1v1h-1zM452 390h1v1h-1zM457 390h1v1h-1zM463 390h1v1h-1zM468 390h4v1h-4zM479 390h1v1h-1zM483 390h1v1h-1zM488 390h1v1h-1zM491 390h5v1h-5zM503 390h1v1h-1zM507 390h1v1h-1zM512 390h1v1h-1zM515 390h1v1h-1zM517 390h1v1h-1zM531 390h1v1h-1zM538 390h2v1h-2zM543 390h2v1h-2zM551 390h2v1h-2zM555 390h4v1h-4zM562 390h2v1h-2zM569 390h1v1h-1zM577 390h1v1h-1zM449 391h1v1h-1zM452 391h1v1h-1zM457 391h1v1h-1zM463 391h1v1h-1zM468 391h1v1h-1zM472 391h1v1h-1zM478 391h1v1h-1zM483 391h1v1h-1zM488 391h1v1h-1zM491 391h1v1h-1zM496 391h1v1h-1zM502 391h1v1h-1zM507 391h1v1h-1zM512 391h1v1h-1zM515 391h2v1h-2zM518 391h1v1h-1zM531 391h1v1h-1zM540 391h1v1h-1zM544 391h1v1h-1zM551 391h1v1h-1zM555 391h1v1h-1zM559 391h1v1h-1zM563 391h1v1h-1zM569 391h1v1h-1zM577 391h1v1h-1zM448 392h1v1h-1zM452 392h1v1h-1zM457 392h1v1h-1zM463 392h1v1h-1zM473 392h1v1h-1zM478 392h1v1h-1zM483 392h1v1h-1zM488 392h1v1h-1zM496 392h1v1h-1zM502 392h1v1h-1zM507 392h1v1h-1zM512 392h1v1h-1zM515 392h1v1h-1zM519 392h1v1h-1zM531 392h1v1h-1zM541 392h1v1h-1zM550 392h1v1h-1zM560 392h1v1h-1zM569 392h1v1h-1zM576 392h1v1h-1zM447 393h1v1h-1zM452 393h1v1h-1zM457 393h1v1h-1zM463 393h1v1h-1zM473 393h1v1h-1zM477 393h1v1h-1zM483 393h1v1h-1zM488 393h1v1h-1zM496 393h1v1h-1zM501 393h1v1h-1zM507 393h1v1h-1zM511 393h1v1h-1zM515 393h1v1h-1zM519 393h1v1h-1zM531 393h1v1h-1zM541 393h1v1h-1zM549 393h1v1h-1zM560 393h1v1h-1zM569 393h1v1h-1zM576 393h1v1h-1zM446 394h1v1h-1zM452 394h1v1h-1zM457 394h1v1h-1zM463 394h1v1h-1zM467 394h1v1h-1zM472 394h1v1h-1zM476 394h1v1h-1zM483 394h1v1h-1zM488 394h1v1h-1zM491 394h1v1h-1zM496 394h1v1h-1zM500 394h1v1h-1zM507 394h1v1h-1zM511 394h1v1h-1zM515 394h1v1h-1zM519 394h1v1h-1zM531 394h1v1h-1zM535 394h1v1h-1zM540 394h1v1h-1zM548 394h1v1h-1zM554 394h1v1h-1zM559 394h1v1h-1zM569 394h1v1h-1zM575 394h1v1h-1zM445 395h6v1h-6zM453 395h4v1h-4zM463 395h1v1h-1zM468 395h4v1h-4zM476 395h1v1h-1zM484 395h4v1h-4zM491 395h5v1h-5zM500 395h1v1h-1zM508 395h4v1h-4zM516 395h3v1h-3zM531 395h1v1h-1zM536 395h4v1h-4zM543 395h2v1h-2zM547 395h6v1h-6zM555 395h4v1h-4zM562 395h2v1h-2zM569 395h1v1h-1zM575 395h1v1h-1zM475 396h1v1h-1zM499 396h1v1h-1zM475 397h1v1h-1zM499 397h1v1h-1zM474 398h1v1h-1zM498 398h1v1h-1z" fill="#000"/></g>
<g aria-label="METP-02"><path d="M527 48h1v1h-1zM533 48h1v1h-1zM537 48h6v1h-6zM544 48h6v1h-6zM552 48h6v1h-6zM572 48h5v1h-5zM580 48h5v1h-5zM527 49h1v1h-1zM533 49h1v1h-1zM537 49h1v1h-1zM547 49h1v1h-1zM552 49h1v1h-1zM557 49h1v1h-1zM571 49h1v1h-1zM576 49h1v1h-1zM580 49h1v1h-1zM585 49h1v1h-1zM527 50h2v1h-2zM532 50h2v1h-2zM537 50h1v1h-1zM547 50h1v1h-1zM552 50h1v1h-1zM557 50h1v1h-1zM571 50h1v1h-1zM577 50h1v1h-1zM580 50h1v1h-1zM585 50h1v1h-1zM527 51h2v1h-2zM532 51h2v1h-2zM537 51h1v1h-1zM547 51h1v1h-1zM552 51h1v1h-1zM557 51h1v1h-1zM571 51h1v1h-1zM577 51h1v1h-1zM584 51h1v1h-1zM527 52h2v1h-2zM532 52h2v1h-2zM537 52h4v1h-4zM547 52h1v1h-1zM552 52h6v1h-6zM571 52h1v1h-1zM577 52h1v1h-1zM584 52h1v1h-1zM527 53h1v1h-1zM529 53h1v1h-1zM531 53h1v1h-1zM533 53h1v1h-1zM537 53h1v1h-1zM547 53h1v1h-1zM552 53h1v1h-1zM560 53h9v1h-9zM571 53h1v1h-1zM577 53h1v1h-1zM583 53h1v1h-1zM527 54h1v1h-1zM529 54h1v1h-1zM531 54h1v1h-1zM533 54h1v1h-1zM537 54h1v1h-1zM547 54h1v1h-1zM552 54h1v1h-1zM571 54h1v1h-1zM576 54h1v1h-1zM581 54h2v1h-2zM527 55h1v1h-1zM530 55h1v1h-1zM533 55h1v1h-1zM537 55h1v1h-1zM547 55h1v1h-1zM552 55h1v1h-1zM571 55h1v1h-1zM576 55h1v1h-1zM580 55h1v1h-1zM527 56h1v1h-1zM530 56h1v1h-1zM533 56h1v1h-1zM537 56h6v1h-6zM547 56h1v1h-1zM552 56h1v1h-1zM572 56h5v1h-5zM579 56h7v1h-7z" fill="#000"/></g>
<g aria-label="NOAA-15"><path d="M527 69h1v1h-1zM533 69h1v1h-1zM537 69h5v1h-5zM547 69h1v1h-1zM555 69h1v1h-1zM574 69h1v1h-1zM580 69h5v1h-5zM527 70h2v1h-2zM533 70h1v1h-1zM536 70h1v1h-1zM541 70h1v1h-1zM547 70h1v1h-1zM555 70h1v1h-1zM573 70h2v1h-2zM580 70h1v1h-1zM527 71h2v1h-2zM533 71h1v1h-1zM536 71h1v1h-1zM542 71h1v1h-1zM546 71h1v1h-1zM548 71h1v1h-1zM554 71h1v1h-1zM556 71h1v1h-1zM572 71h1v1h-1zM574 71h1v1h-1zM580 71h1v1h-1zM527 72h1v1h-1zM529 72h1v1h-1zM533 72h1v1h-1zM536 72h1v1h-1zM542 72h1v1h-1zM546 72h1v1h-1zM548 72h1v1h-1zM554 72h1v1h-1zM556 72h1v1h-1zM574 72h1v1h-1zM580 72h5v1h-5zM527 73h1v1h-1zM530 73h1v1h-1zM533 73h1v1h-1zM536 73h1v1h-1zM542 73h1v1h-1zM546 73h1v1h-1zM549 73h1v1h-1zM554 73h1v1h-1zM556 73h1v1h-1zM574 73h1v1h-1zM580 73h1v1h-1zM585 73h1v1h-1zM527 74h1v1h-1zM530 74h1v1h-1zM533 74h1v1h-1zM536 74h1v1h-1zM542 74h1v1h-1zM545 74h1v1h-1zM549 74h1v1h-1zM553 74h1v1h-1zM557 74h1v1h-1zM560 74h9v1h-9zM574 74h1v1h-1zM585 74h1v1h-1zM527 75h1v1h-1zM531 75h1v1h-1zM533 75h1v1h-1zM536 75h1v1h-1zM542 75h1v1h-1zM545 75h6v1h-6zM553 75h5v1h-5zM574 75h1v1h-1zM585 75h1v1h-1zM527 76h1v1h-1zM532 76h2v1h-2zM536 76h1v1h-1zM542 76h1v1h-1zM545 76h1v1h-1zM550 76h1v1h-1zM553 76h1v1h-1zM557 76h1v1h-1zM574 76h1v1h-1zM579 76h1v1h-1zM585 76h1v1h-1zM527 77h1v1h-1zM532 77h2v1h-2zM536 77h2v1h-2zM541 77h1v1h-1zM544 77h1v1h-1zM551 77h2v1h-2zM558 77h1v1h-1zM574 77h1v1h-1zM580 77h1v1h-1zM584 77h2v1h-2zM527 78h1v1h-1zM533 78h1v1h-1zM538 78h3v1h-3zM544 78h1v1h-1zM551 78h2v1h-2zM558 78h1v1h-1zM574 78h1v1h-1zM581 78h3v1h-3z" fill="#0000dc"/></g>
<g aria-label="NOAA-16"><path d="M527 90h1v1h-1zM533 90h1v1h-1zM538 90h3v1h-3zM547 90h1v1h-1zM555 90h1v1h-1zM574 90h1v1h-1zM582 90h2v1h-2zM527 91h2v1h-2zM533 91h1v1h-1zM537 91h1v1h-1zM541 91h1v1h-1zM547 91h1v1h-1zM555 91h1v1h-1zM573 91h2v1h-2zM581 91h1v1h-1zM584 91h1v1h-1zM527 92h2v1h-2zM533 92h1v1h-1zM536 92h1v1h-1zM541 92h1v1h-1zM546 92h1v1h-1zM548 92h1v1h-1zM554 92h1v1h-1zM556 92h1v1h-1zM572 92h3v1h-3zM580 92h1v1h-1zM585 92h1v1h-1zM527 93h1v1h-1zM529 93h1v1h-1zM533 93h1v1h-1zM536 93h1v1h-1zM542 93h1v1h-1zM546 93h1v1h-1zM548 93h1v1h-1zM554 93h1v1h-1zM556 93h1v1h-1zM574 93h1v1h-1zM580 93h1v1h-1zM527 94h1v1h-1zM530 94h1v1h-1zM533 94h1v1h-1zM536 94h1v1h-1zM542 94h1v1h-1zM546 94h1v1h-1zM549 94h1v1h-1zM554 94h1v1h-1zM556 94h1v1h-1zM574 94h1v1h-1zM580 94h5v1h-5zM527 95h1v1h-1zM530 95h1v1h-1zM533 95h1v1h-1zM536 95h1v1h-1zM542 95h1v1h-1zM545 95h1v1h-1zM549 95h1v1h-1zM553 95h1v1h-1zM557 95h1v1h-1zM560 95h9v1h-9zM574 95h1v1h-1zM580 95h1v1h-1zM585 95h1v1h-1zM527 96h1v1h-1zM531 96h1v1h-1zM533 96h1v1h-1zM536 96h1v1h-1zM542 96h1v1h-1zM545 96h6v1h-6zM553 96h5v1h-5zM574 96h1v1h-1zM580 96h1v1h-1zM585 96h1v1h-1zM527 97h1v1h-1zM532 97h2v1h-2zM536 97h1v1h-1zM542 97h1v1h-1zM545 97h1v1h-1zM550 97h1v1h-1zM553 97h1v1h-1zM557 97h1v1h-1zM574 97h1v1h-1zM580 97h1v1h-1zM585 97h1v1h-1zM527 98h1v1h-1zM532 98h2v1h-2zM536 98h1v1h-1zM541 98h1v1h-1zM544 98h1v1h-1zM551 98h2v1h-2zM558 98h1v1h-1zM574 98h1v1h-1zM580 98h1v1h-1zM585 98h1v1h-1zM527 99h1v1h-1zM533 99h1v1h-1zM537 99h5v1h-5zM544 99h1v1h-1zM551 99h2v1h-2zM558 99h1v1h-1zM574 99h1v1h-1zM581 99h4v1h-4z" fill="#00b0ff"/></g>
<g aria-label="NOAA-18"><path d="M527 112h1v1h-1zM533 112h1v1h-1zM537 112h5v1h-5zM547 112h1v1h-1zM555 112h1v1h-1zM574 112h1v1h-1zM580 112h5v1h-5zM527 113h2v1h-2zM533 113h1v1h-1zM536 113h1v1h-1zM541 113h1v1h-1zM547 113h1v1h-1zM555 113h1v1h-1zM573 113h2v1h-2zM580 113h1v1h-1zM585 113h1v1h-1zM527 114h2v1h-2zM533 114h1v1h-1zM536 114h1v1h-1zM542 114h1v1h-1zM546 114h1v1h-1zM548 114h1v1h-1zM554 114h1v1h-1zM556 114h1v1h-1zM572 114h1v1h-1zM574 114h1v1h-1zM580 114h1v1h-1zM585 114h1v1h-1zM527 115h1v1h-1zM529 115h1v1h-1zM533 115h1v1h-1zM536 115h1v1h-1zM542 115h1v1h-1zM546 115h1v1h-1zM548 115h1v1h-1zM554 115h1v1h-1zM556 115h1v1h-1zM574 115h1v1h-1zM580 115h3v1h-3zM584 115h1v1h-1zM527 116h1v1h-1zM530 116h1v1h-1zM533 116h1v1h-1zM536 116h1v1h-1zM542 116h1v1h-1zM546 116h1v1h-1zM549 116h1v1h-1zM554 116h1v1h-1zM556 116h1v1h-1zM574 116h1v1h-1zM581 116h4v1h-4zM527 117h1v1h-1zM530 117h1v1h-1zM533 117h1v1h-1zM536 117h1v1h-1zM542 117h1v1h-1zM545 117h1v1h-1zM549 117h1v1h-1zM553 117h1v1h-1zM557 117h1v1h-1zM560 117h9v1h-9zM574 117h1v1h-1zM580 117h1v1h-1zM585 117h1v1h-1zM527 118h1v1h-1zM531 118h1v1h-1zM533 118h1v1h-1zM536 118h1v1h-1zM542 118h1v1h-1zM545 118h6v1h-6zM553 118h5v1h-5zM574 118h1v1h-1zM579 118h1v1h-1zM585 118h1v1h-1zM527 119h1v1h-1zM532 119h2v1h-2zM536 119h1v1h-1zM541 119h2v1h-2zM545 119h1v1h-1zM550 119h1v1h-1zM553 119h1v1h-1zM557 119h1v1h-1zM574 119h1v1h-1zM579 119h1v1h-1zM585 119h1v1h-1zM527 120h1v1h-1zM532 120h2v1h-2zM537 120h1v1h-1zM541 120h1v1h-1zM544 120h1v1h-1zM551 120h2v1h-2zM558 120h1v1h-1zM574 120h1v1h-1zM580 120h1v1h-1zM584 120h2v1h-2zM527 121h1v1h-1zM533 121h1v1h-1zM538 121h3v1h-3zM544 121h1v1h-1zM551 121h2v1h-2zM558 121h1v1h-1zM574 121h1v1h-1zM581 121h3v1h-3z" fill="#00fa46"/></g>
<g aria-label="NOAA-19"><path d="M527 133h1v1h-1zM533 133h1v1h-1zM538 133h3v1h-3zM547 133h1v1h-1zM555 133h1v1h-1zM574 133h1v1h-1zM582 133h2v1h-2zM527 134h2v1h-2zM533 134h1v1h-1zM536 134h2v1h-2zM541 134h1v1h-1zM547 134h1v1h-1zM555 134h1v1h-1zM573 134h2v1h-2zM580 134h2v1h-2zM584 134h1v1h-1zM527 135h2v1h-2zM533 135h1v1h-1zM536 135h1v1h-1zM542 135h1v1h-1zM546 135h1v1h-1zM548 135h1v1h-1zM554 135h1v1h-1zM556 135h1v1h-1zM572 135h1v1h-1zM574 135h1v1h-1zM579 135h1v1h-1zM584 135h1v1h-1zM527 136h1v1h-1zM529 136h1v1h-1zM533 136h1v1h-1zM536 136h1v1h-1zM542 136h1v1h-1zM546 136h1v1h-1zM548 136h1v1h-1zM554 136h1v1h-1zM556 136h1v1h-1zM574 136h1v1h-1zM579 136h1v1h-1zM585 136h1v1h-1zM527 137h1v1h-1zM530 137h1v1h-1zM533 137h1v1h-1zM536 137h1v1h-1zM542 137h1v1h-1zM546 137h1v1h-1zM549 137h1v1h-1zM554 137h1v1h-1zM556 137h1v1h-1zM574 137h1v1h-1zM580 137h1v1h-1zM584 137h2v1h-2zM527 138h1v1h-1zM530 138h1v1h-1zM533 138h1v1h-1zM536 138h1v1h-1zM542 138h1v1h-1zM545 138h1v1h-1zM549 138h1v1h-1zM553 138h1v1h-1zM557 138h1v1h-1zM560 138h9v1h-9zM574 138h1v1h-1zM581 138h1v1h-1zM583 138h3v1h-3zM527 139h1v1h-1zM531 139h1v1h-1zM533 139h1v1h-1zM536 139h1v1h-1zM542 139h1v1h-1zM545 139h6v1h-6zM553 139h5v1h-5zM574 139h1v1h-1zM582 139h1v1h-1zM585 139h1v1h-1zM527 140h1v1h-1zM532 140h2v1h-2zM536 140h1v1h-1zM542 140h1v1h-1zM545 140h1v1h-1zM550 140h1v1h-1zM553 140h1v1h-1zM557 140h1v1h-1zM574 140h1v1h-1zM584 140h1v1h-1zM527 141h1v1h-1zM532 141h2v1h-2zM536 141h1v1h-1zM541 141h1v1h-1zM544 141h1v1h-1zM551 141h2v1h-2zM558 141h1v1h-1zM574 141h1v1h-1zM580 141h1v1h-1zM584 141h1v1h-1zM527 142h1v1h-1zM533 142h1v1h-1zM537 142h5v1h-5zM544 142h1v1h-1zM551 142h2v1h-2zM558 142h1v1h-1zM574 142h1v1h-1zM580 142h5v1h-5z" fill="#ff7800"/></g>
<g aria-label="- - Ovation"><path d="M550 210h4v1h-4zM573 210h1v1h-1zM577 210h2v1h-2zM549 211h1v1h-1zM554 211h1v1h-1zM573 211h1v1h-1zM549 212h1v1h-1zM555 212h1v1h-1zM573 212h1v1h-1zM548 213h1v1h-1zM555 213h1v1h-1zM557 213h1v1h-1zM562 213h1v1h-1zM566 213h4v1h-4zM572 213h4v1h-4zM578 213h1v1h-1zM582 213h4v1h-4zM589 213h5v1h-5zM548 214h1v1h-1zM555 214h1v1h-1zM557 214h1v1h-1zM562 214h1v1h-1zM565 214h1v1h-1zM569 214h1v1h-1zM573 214h1v1h-1zM578 214h1v1h-1zM581 214h1v1h-1zM586 214h1v1h-1zM589 214h1v1h-1zM593 214h1v1h-1zM513 215h9v1h-9zM531 215h9v1h-9zM548 215h1v1h-1zM555 215h1v1h-1zM558 215h1v1h-1zM561 215h1v1h-1zM565 215h1v1h-1zM569 215h1v1h-1zM573 215h1v1h-1zM578 215h1v1h-1zM581 215h1v1h-1zM586 215h1v1h-1zM589 215h1v1h-1zM594 215h1v1h-1zM548 216h1v1h-1zM555 216h1v1h-1zM558 216h1v1h-1zM561 216h1v1h-1zM564 216h1v1h-1zM569 216h1v1h-1zM573 216h1v1h-1zM578 216h1v1h-1zM581 216h1v1h-1zM586 216h1v1h-1zM589 216h1v1h-1zM594 216h1v1h-1zM549 217h1v1h-1zM555 217h1v1h-1zM559 217h1v1h-1zM561 217h1v1h-1zM564 217h1v1h-1zM569 217h1v1h-1zM573 217h1v1h-1zM578 217h1v1h-1zM581 217h1v1h-1zM586 217h1v1h-1zM589 217h1v1h-1zM594 217h1v1h-1zM549 218h2v1h-2zM553 218h2v1h-2zM559 218h2v1h-2zM565 218h2v1h-2zM568 218h2v1h-2zM573 218h1v1h-1zM578 218h1v1h-1zM581 218h2v1h-2zM585 218h2v1h-2zM589 218h1v1h-1zM594 218h1v1h-1zM551 219h2v1h-2zM560 219h1v1h-1zM566 219h4v1h-4zM574 219h2v1h-2zM578 219h1v1h-1zM583 219h2v1h-2zM589 219h1v1h-1zM594 219h1v1h-1z" fill="#0046f0"/></g>
<g aria-label="Prime HPI"><path d="M527 222h6v1h-6zM541 222h1v1h-1zM571 222h1v1h-1zM577 222h1v1h-1zM581 222h6v1h-6zM589 222h1v1h-1zM527 223h1v1h-1zM532 223h1v1h-1zM571 223h1v1h-1zM577 223h1v1h-1zM581 223h1v1h-1zM586 223h1v1h-1zM589 223h1v1h-1zM527 224h1v1h-1zM533 224h1v1h-1zM571 224h1v1h-1zM577 224h1v1h-1zM581 224h1v1h-1zM586 224h1v1h-1zM589 224h1v1h-1zM527 225h1v1h-1zM533 225h1v1h-1zM536 225h4v1h-4zM541 225h1v1h-1zM544 225h1v1h-1zM546 225h8v1h-8zM558 225h4v1h-4zM571 225h1v1h-1zM577 225h1v1h-1zM581 225h1v1h-1zM586 225h1v1h-1zM589 225h1v1h-1zM527 226h1v1h-1zM532 226h1v1h-1zM536 226h1v1h-1zM541 226h1v1h-1zM544 226h2v1h-2zM549 226h1v1h-1zM553 226h1v1h-1zM557 226h1v1h-1zM561 226h1v1h-1zM571 226h7v1h-7zM581 226h1v1h-1zM585 226h2v1h-2zM589 226h1v1h-1zM527 227h5v1h-5zM536 227h1v1h-1zM541 227h1v1h-1zM544 227h1v1h-1zM549 227h1v1h-1zM554 227h1v1h-1zM557 227h1v1h-1zM562 227h1v1h-1zM571 227h1v1h-1zM577 227h1v1h-1zM581 227h4v1h-4zM589 227h1v1h-1zM527 228h1v1h-1zM536 228h1v1h-1zM541 228h1v1h-1zM544 228h1v1h-1zM549 228h1v1h-1zM554 228h1v1h-1zM557 228h6v1h-6zM571 228h1v1h-1zM577 228h1v1h-1zM581 228h1v1h-1zM589 228h1v1h-1zM527 229h1v1h-1zM536 229h1v1h-1zM541 229h1v1h-1zM544 229h1v1h-1zM549 229h1v1h-1zM554 229h1v1h-1zM557 229h1v1h-1zM571 229h1v1h-1zM577 229h1v1h-1zM581 229h1v1h-1zM589 229h1v1h-1zM527 230h1v1h-1zM536 230h1v1h-1zM541 230h1v1h-1zM544 230h1v1h-1zM549 230h1v1h-1zM554 230h1v1h-1zM557 230h2v1h-2zM561 230h2v1h-2zM571 230h1v1h-1zM577 230h1v1h-1zM581 230h1v1h-1zM589 230h1v1h-1zM527 231h1v1h-1zM536 231h1v1h-1zM541 231h1v1h-1zM544 231h1v1h-1zM549 231h1v1h-1zM554 231h1v1h-1zM559 231h2v1h-2zM571 231h1v1h-1zM577 231h1v1h-1zM581 231h1v1h-1zM589 231h1v1h-1z" fill="#0046f0"/></g>
<g aria-label="+ south"><path d="M568 302h1v1h-1zM573 302h1v1h-1zM531 303h1v1h-1zM568 303h1v1h-1zM573 303h1v1h-1zM531 304h1v1h-1zM568 304h1v1h-1zM573 304h1v1h-1zM531 305h1v1h-1zM544 305h5v1h-5zM552 305h4v1h-4zM560 305h1v1h-1zM564 305h1v1h-1zM567 305h4v1h-4zM573 305h5v1h-5zM531 306h1v1h-1zM544 306h1v1h-1zM549 306h1v1h-1zM552 306h1v1h-1zM556 306h1v1h-1zM560 306h1v1h-1zM564 306h1v1h-1zM568 306h1v1h-1zM573 306h1v1h-1zM577 306h1v1h-1zM527 307h8v1h-8zM544 307h3v1h-3zM551 307h1v1h-1zM557 307h1v1h-1zM560 307h1v1h-1zM564 307h1v1h-1zM568 307h1v1h-1zM573 307h1v1h-1zM577 307h1v1h-1zM531 308h1v1h-1zM547 308h2v1h-2zM551 308h1v1h-1zM557 308h1v1h-1zM560 308h1v1h-1zM564 308h1v1h-1zM568 308h1v1h-1zM573 308h1v1h-1zM577 308h1v1h-1zM531 309h1v1h-1zM549 309h1v1h-1zM551 309h1v1h-1zM556 309h1v1h-1zM560 309h1v1h-1zM564 309h1v1h-1zM568 309h1v1h-1zM573 309h1v1h-1zM577 309h1v1h-1zM531 310h1v1h-1zM544 310h1v1h-1zM548 310h2v1h-2zM552 310h1v1h-1zM555 310h2v1h-2zM560 310h1v1h-1zM563 310h2v1h-2zM568 310h1v1h-1zM573 310h1v1h-1zM577 310h1v1h-1zM531 311h1v1h-1zM545 311h3v1h-3zM553 311h2v1h-2zM561 311h2v1h-2zM564 311h1v1h-1zM569 311h2v1h-2zM573 311h1v1h-1zM577 311h1v1h-1z" fill="#000"/></g>
<g aria-label="north"><path d="M562 333h1v1h-1zM567 333h1v1h-1zM562 334h1v1h-1zM567 334h1v1h-1zM562 335h1v1h-1zM567 335h1v1h-1zM540 336h5v1h-5zM549 336h4v1h-4zM556 336h9v1h-9zM567 336h5v1h-5zM540 337h1v1h-1zM545 337h1v1h-1zM548 337h1v1h-1zM553 337h1v1h-1zM556 337h2v1h-2zM562 337h1v1h-1zM567 337h1v1h-1zM571 337h1v1h-1zM540 338h1v1h-1zM545 338h1v1h-1zM548 338h1v1h-1zM553 338h1v1h-1zM556 338h1v1h-1zM562 338h1v1h-1zM567 338h1v1h-1zM571 338h1v1h-1zM540 339h1v1h-1zM545 339h1v1h-1zM548 339h1v1h-1zM553 339h1v1h-1zM556 339h1v1h-1zM562 339h1v1h-1zM567 339h1v1h-1zM571 339h1v1h-1zM540 340h1v1h-1zM545 340h1v1h-1zM548 340h1v1h-1zM553 340h1v1h-1zM556 340h1v1h-1zM562 340h1v1h-1zM567 340h1v1h-1zM571 340h1v1h-1zM540 341h1v1h-1zM545 341h1v1h-1zM549 341h4v1h-4zM556 341h1v1h-1zM562 341h3v1h-3zM567 341h1v1h-1zM571 341h1v1h-1z" fill="#000"/></g>
<g aria-label="*"><path d="M528 335h1v1h-1zM526 336h1v1h-1zM528 336h1v1h-1zM531 336h1v1h-1zM527 337h4v1h-4zM527 338h4v1h-4zM526 339h1v1h-1zM528 339h1v1h-1zM531 339h1v1h-1zM528 340h1v1h-1z" fill="#000"/></g>
</svg>
</body></html>
